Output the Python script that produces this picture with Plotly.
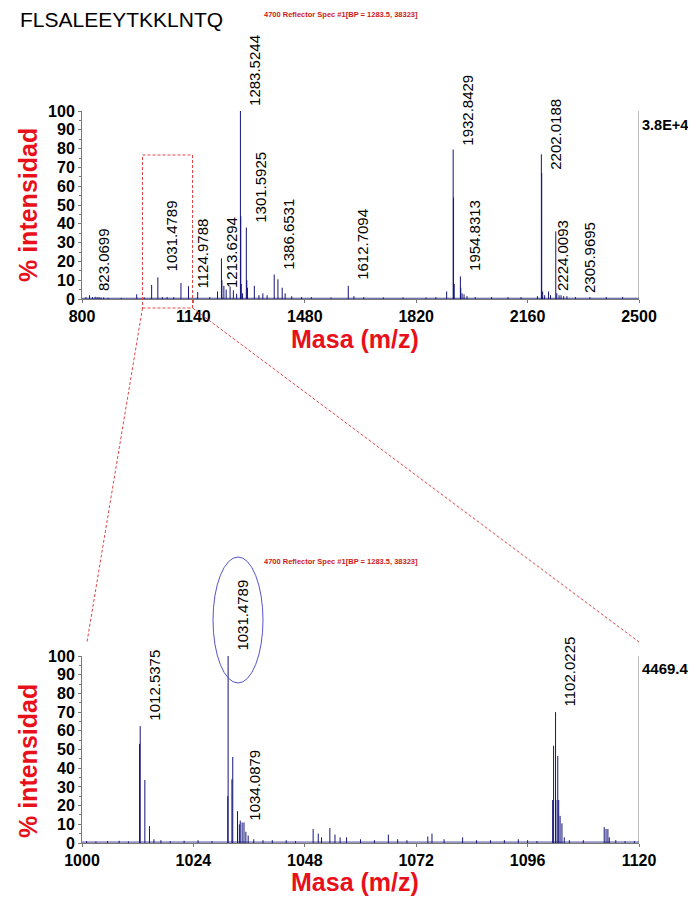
import plotly.graph_objects as go

FONT = "Liberation Sans"
NAVY = "#14147a"
RED = "#e8101a"
GRAY = "#7a7a7a"
W, H = 688, 897
OFF = 8  # page body margin of the generated html

# ---------------- data: overview spectrum (800-2500) ----------------
top_mz = [812, 823.07, 832, 840, 846, 852, 858, 866, 880, 920, 967, 990,
          1012.54, 1031.48, 1045, 1060, 1080, 1102.02, 1124.98, 1153, 1190,
          1213.63, 1225.6, 1227, 1233, 1240, 1252, 1262, 1272,
          1283.52, 1284.6, 1286, 1290, 1301.59, 1303, 1305, 1326, 1340, 1352, 1365,
          1386.65, 1398, 1411, 1420, 1440, 1470, 1500, 1560,
          1612.71, 1630, 1660, 1720, 1780, 1850, 1880, 1913,
          1932.84, 1933.9, 1936, 1954.83, 1956, 1960, 1966, 1975, 2000,
          2050, 2100, 2140, 2190, 2202.02, 2203.1, 2206, 2212,
          2224.01, 2230, 2246, 2249, 2256, 2262, 2270, 2280, 2306, 2350, 2400, 2450]
top_int = [1.0, 2.0, 1.0, 1.2, 1.0, 1.0, 0.8, 0.8, 0.6, 0.6, 2.5, 0.8,
           7.5, 11.5, 1.0, 1.0, 1.0, 8.5, 6.8, 3.7, 1.0,
           4.0, 21.6, 10.0, 7.0, 5.0, 6.5, 4.6, 2.8,
           100.0, 44.0, 8.0, 3.0, 38.0, 10.0, 6.0, 7.0, 2.0, 3.0, 2.0,
           13.0, 10.5, 6.0, 3.0, 1.5, 1.0, 1.0, 0.8,
           7.0, 1.5, 1.0, 0.8, 0.8, 0.8, 1.0, 4.0,
           79.5, 54.0, 8.0, 12.0, 6.0, 3.0, 2.5, 1.5, 1.0,
           1.0, 1.0, 1.0, 1.5, 77.0, 67.0, 4.0, 2.0,
           4.0, 2.0, 36.0, 3.0, 2.0, 2.0, 1.5, 1.5, 1.0, 1.0, 1.0, 1.0]
top_label_mz = [823.0699, 1031.4789, 1124.9788, 1213.6294, 1283.5244, 1301.5925,
                1386.6531, 1612.7094, 1932.8429, 1954.8313, 2202.0188, 2224.0093,
                2305.9695]
top_label_y = [3.2, 13.8, 4.8, 4.8, 101.6, 39.4, 14.4, 9.0, 80.3, 13.8, 67.6, 3.2, 2.1]
top_ticks = [800, 1140, 1480, 1820, 2160, 2500]

# ---------------- data: zoomed spectrum (1000-1120) ----------------
bot_mz = [1001, 1003, 1005.5, 1008, 1010, 1012.4, 1012.54, 1013.54, 1014.54,
          1015.5, 1017, 1019, 1022, 1025, 1028,
          1031.4, 1031.48, 1032.3, 1032.48, 1033.5, 1033.9, 1034.09, 1034.5, 1034.9,
          1035.3, 1035.8, 1037, 1039, 1041, 1044, 1046,
          1049.8, 1050.9, 1051.6, 1053.4, 1054.5, 1055.6, 1057, 1060, 1063, 1066,
          1068, 1070, 1074.5, 1075.4, 1078, 1082, 1085, 1088, 1091, 1094, 1096, 1098,
          1101.4, 1101.6, 1102.02, 1102.1, 1102.5, 1102.7, 1103.0, 1103.4, 1103.9,
          1105, 1108, 1112.5, 1112.9, 1113.3, 1113.6, 1115, 1117, 1119]
bot_int = [1.0, 0.8, 1.0, 1.2, 0.8, 53.0, 62.5, 33.7, 9.0,
           2.0, 1.5, 1.0, 1.2, 1.5, 1.0,
           25.0, 100.0, 34.0, 46.0, 17.0, 10.0, 12.0, 11.0, 11.0,
           6.0, 4.0, 2.0, 1.5, 1.5, 1.5, 1.0,
           7.5, 5.0, 3.0, 8.0, 4.5, 3.0, 3.0, 2.0, 1.5, 4.5,
           2.0, 1.5, 3.5, 5.0, 2.0, 3.0, 1.5, 1.5, 1.5, 2.0, 1.5, 1.0,
           23.0, 52.0, 70.0, 23.0, 46.5, 23.0, 14.5, 10.5, 3.0,
           1.5, 1.5, 8.5, 7.5, 7.5, 3.0, 1.5, 1.0, 1.0]
bot_label_mz = [1012.5375, 1031.4789, 1034.0879, 1102.0225]
bot_label_y = [64.2, 101.6, 10.7, 71.7]
bot_ticks = [1000, 1024, 1048, 1072, 1096, 1120]

y_ticks = list(range(0, 101, 10))


def sticks(mz, inten):
    xs, ys = [], []
    for m, h in zip(mz, inten):
        xs += [m, m, None]
        ys += [0, h, None]
    return xs, ys


def px(x):
    return (x - OFF) / W


def py(y):
    return 1 - (y - OFF) / H


fig = go.Figure()
tx, ty = sticks(top_mz, top_int)
fig.add_trace(go.Scatter(x=[800, 2500], y=[0.4, 0.4], mode="lines",
                         line=dict(color=NAVY, width=0.8), xaxis="x", yaxis="y",
                         hoverinfo="skip"))
fig.add_trace(go.Scatter(x=tx, y=ty, mode="lines", line=dict(color=NAVY, width=1),
                         xaxis="x", yaxis="y"))
bx, by = sticks(bot_mz, bot_int)
fig.add_trace(go.Scatter(x=[1000, 1120], y=[0.5, 0.5], mode="lines",
                         line=dict(color=NAVY, width=0.8), xaxis="x2", yaxis="y2",
                         hoverinfo="skip"))
fig.add_trace(go.Scatter(x=bx, y=by, mode="lines", line=dict(color=NAVY, width=1),
                         xaxis="x2", yaxis="y2"))

tickfont = dict(family=FONT, size=16, color="black", weight="bold")
xdom = [px(82), px(639)]


def xaxis_cfg(rng, ticks, anchor):
    return dict(domain=xdom, range=rng, tickvals=ticks, ticktext=[str(t) for t in ticks],
                showgrid=False, zeroline=False, showline=True, linecolor=GRAY,
                linewidth=1, ticks="outside", ticklen=3, tickcolor=GRAY,
                tickfont=tickfont, anchor=anchor, fixedrange=True, automargin=False)


def yaxis_cfg(dom, anchor):
    return dict(domain=dom, range=[0, 100], tickvals=y_ticks, showgrid=False,
                zeroline=False, showline=True, linecolor=GRAY, linewidth=1,
                ticks="outside", ticklen=3, tickcolor=GRAY, tickfont=tickfont,
                minor=dict(ticks="outside", ticklen=2, dtick=5, tickcolor=GRAY),
                anchor=anchor, fixedrange=True, automargin=False)


label_font = dict(family=FONT, size=15, color="black")
annotations = []
for m, yl in zip(top_label_mz, top_label_y):
    annotations.append(dict(x=m, y=min(yl, 100), xref="x", yref="y", text=f"{m:.4f}",
                            textangle=-90, xanchor="center", yanchor="bottom",
                            xshift=14, yshift=max(yl - 100, 0) * 1.88,
                            showarrow=False, font=label_font))
for m, yl in zip(bot_label_mz, bot_label_y):
    annotations.append(dict(x=m, y=min(yl, 100), xref="x2", yref="y2", text=f"{m:.4f}",
                            textangle=-90, xanchor="center", yanchor="bottom",
                            xshift=14, yshift=max(yl - 100, 0) * 1.87,
                            showarrow=False, font=label_font))

title_font = dict(family=FONT, size=25, color=RED, weight="bold")
spec_font = dict(family=FONT, size=7.5, color="#d01818", weight="bold")
spec_text = "4700 Reflector Spec #1[BP = 1283.5, 38323]"
annotations += [
    dict(x=px(18), y=py(19), xref="paper", yref="paper", text="FLSALEEYTKKLNTQ",
         xanchor="left", yanchor="middle", showarrow=False,
         font=dict(family=FONT, size=21, color="black")),
    dict(x=px(262), y=py(15), xref="paper", yref="paper", text=spec_text,
         xanchor="left", yanchor="middle", showarrow=False, font=spec_font),
    dict(x=px(262), y=py(561), xref="paper", yref="paper", text=spec_text,
         xanchor="left", yanchor="middle", showarrow=False, font=spec_font),
    dict(x=px(355), y=py(339), xref="paper", yref="paper", text="Masa (m/z)",
         xanchor="center", yanchor="middle", showarrow=False, font=title_font),
    dict(x=px(355), y=py(882), xref="paper", yref="paper", text="Masa (m/z)",
         xanchor="center", yanchor="middle", showarrow=False, font=title_font),
    dict(x=px(28), y=py(205), xref="paper", yref="paper", text="% intensidad",
         textangle=-90, xanchor="center", yanchor="middle", showarrow=False,
         font=title_font),
    dict(x=px(28), y=py(761), xref="paper", yref="paper", text="% intensidad",
         textangle=-90, xanchor="center", yanchor="middle", showarrow=False,
         font=title_font),
    dict(x=2500, y=100, xref="x", yref="y", text="3.8E+4", xanchor="left",
         yanchor="top", xshift=1, yshift=-4, showarrow=False,
         font=dict(family=FONT, size=14.5, color="black", weight="bold")),
    dict(x=1120, y=100, xref="x2", yref="y2", text="4469.4", xanchor="left",
         yanchor="top", xshift=1, yshift=-2, showarrow=False,
         font=dict(family=FONT, size=15, color="black", weight="bold")),
]

dash_red = dict(color="#e04848", width=1, dash="3px,2px")
shapes = [
    dict(type="line", xref="x", yref="y", x0=2500, x1=2500, y0=0, y1=100,
         line=dict(color=GRAY, width=1)),
    dict(type="line", xref="x2", yref="y2", x0=1120, x1=1120, y0=0, y1=100,
         line=dict(color=GRAY, width=1)),
    dict(type="rect", xref="paper", yref="paper", x0=px(142.5), x1=px(192.5),
         y0=py(308), y1=py(155), line=dash_red),
    dict(type="line", xref="paper", yref="paper", x0=px(142.5), y0=py(308),
         x1=px(87), y1=py(642), line=dash_red),
    dict(type="line", xref="paper", yref="paper", x0=px(192.5), y0=py(308),
         x1=px(639), y1=py(642), line=dash_red),
    dict(type="circle", xref="paper", yref="paper", x0=px(213), x1=px(263),
         y0=py(683), y1=py(557), line=dict(color="#5555c8", width=1)),
]

fig.update_layout(
    width=W, height=H, margin=dict(l=0, r=0, t=0, b=0, autoexpand=False),
    paper_bgcolor="white", plot_bgcolor="white", showlegend=False,
    xaxis=xaxis_cfg([800, 2500], top_ticks, "y"),
    yaxis=yaxis_cfg([py(299), py(111)], "x"),
    xaxis2=xaxis_cfg([1000, 1120], bot_ticks, "y2"),
    yaxis2=yaxis_cfg([py(843), py(656)], "x2"),
    annotations=annotations, shapes=shapes,
)

fig.write_html("out.html")
